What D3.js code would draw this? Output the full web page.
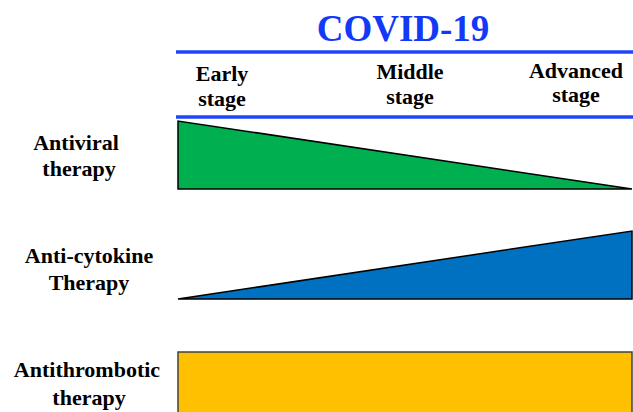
<!DOCTYPE html>
<html>
<head>
<meta charset="utf-8">
<script src="https://cdn.jsdelivr.net/npm/d3@7"></script>
<style>
html,body{margin:0;padding:0;background:#fff;overflow:hidden;}
svg{display:block;}
text{font-family:"Liberation Serif","Times New Roman",serif;font-weight:bold;}
</style>
</head>
<body>
<svg id="chart" width="633" height="412"></svg>
<script>
// Data
const title = "COVID-19";
const stages = ["Early stage", "Middle stage", "Advanced stage"];
const therapies = ["Antiviral therapy", "Anti-cytokine Therapy", "Antithrombotic therapy"];
// relative intensity at start (early) and end (advanced) of disease course
const startValues = [1, 0, 1];
const endValues = [0, 1, 1];
const colors = ["#00B050", "#0070C0", "#FFC000"];

const svg = d3.select("#chart");

// Scales
const x = d3.scaleLinear().domain([0, 1]).range([178, 632]);
const stageX = d3.scaleOrdinal().domain(stages).range([222, 410, 576]);
const h = d3.scaleLinear().domain([0, 1]).range([0, 68]);
const rowBottom = d3.scaleOrdinal().domain(therapies).range([189, 299, 420]);

// Title
svg.append("text")
  .attr("x", 403).attr("y", 41)
  .attr("text-anchor", "middle")
  .attr("font-size", 37)
  .attr("fill", "#1238F8")
  .text(title);

// Header lines
[52, 117].forEach(yy => {
  svg.append("line")
    .attr("x1", 176).attr("x2", 633)
    .attr("y1", yy).attr("y2", yy)
    .attr("stroke", "#1F45FC").attr("stroke-width", 3.5);
});

// Stage labels
const stageBase = [[81, 106], [79, 104], [78, 102]];
stages.forEach((s, i) => {
  const parts = s.split(" ");
  const t = svg.append("text")
    .attr("text-anchor", "middle")
    .attr("font-size", 22)
    .attr("fill", "#000");
  parts.forEach((p, j) => {
    t.append("tspan").attr("x", stageX(s)).attr("y", stageBase[i][j]).text(p);
  });
});

// Therapy shapes
therapies.forEach((th, i) => {
  const base = rowBottom(th);
  const pts = [
    [x(0), base],
    [x(0), base - h(startValues[i])],
    [x(1), base - h(endValues[i])],
    [x(1), base]
  ];
  svg.append("path")
    .attr("d", d3.line()(pts) + "Z")
    .attr("fill", colors[i])
    .attr("stroke", i === 2 ? "#404040" : "#000")
    .attr("stroke-width", 1.5)
    .attr("stroke-linejoin", "miter");
});

// Therapy labels
const labelCx = [[76, 79], [89, 89], [87, 89]];
const labelBase = [[150, 176], [263, 290], [377, 405]];
therapies.forEach((th, i) => {
  const idx = th.indexOf(" ");
  const parts = [th.slice(0, idx), th.slice(idx + 1)];
  const t = svg.append("text")
    .attr("text-anchor", "middle")
    .attr("font-size", 22)
    .attr("fill", "#000");
  parts.forEach((p, j) => {
    t.append("tspan").attr("x", labelCx[i][j]).attr("y", labelBase[i][j]).text(p);
  });
});
</script>
</body>
</html>
